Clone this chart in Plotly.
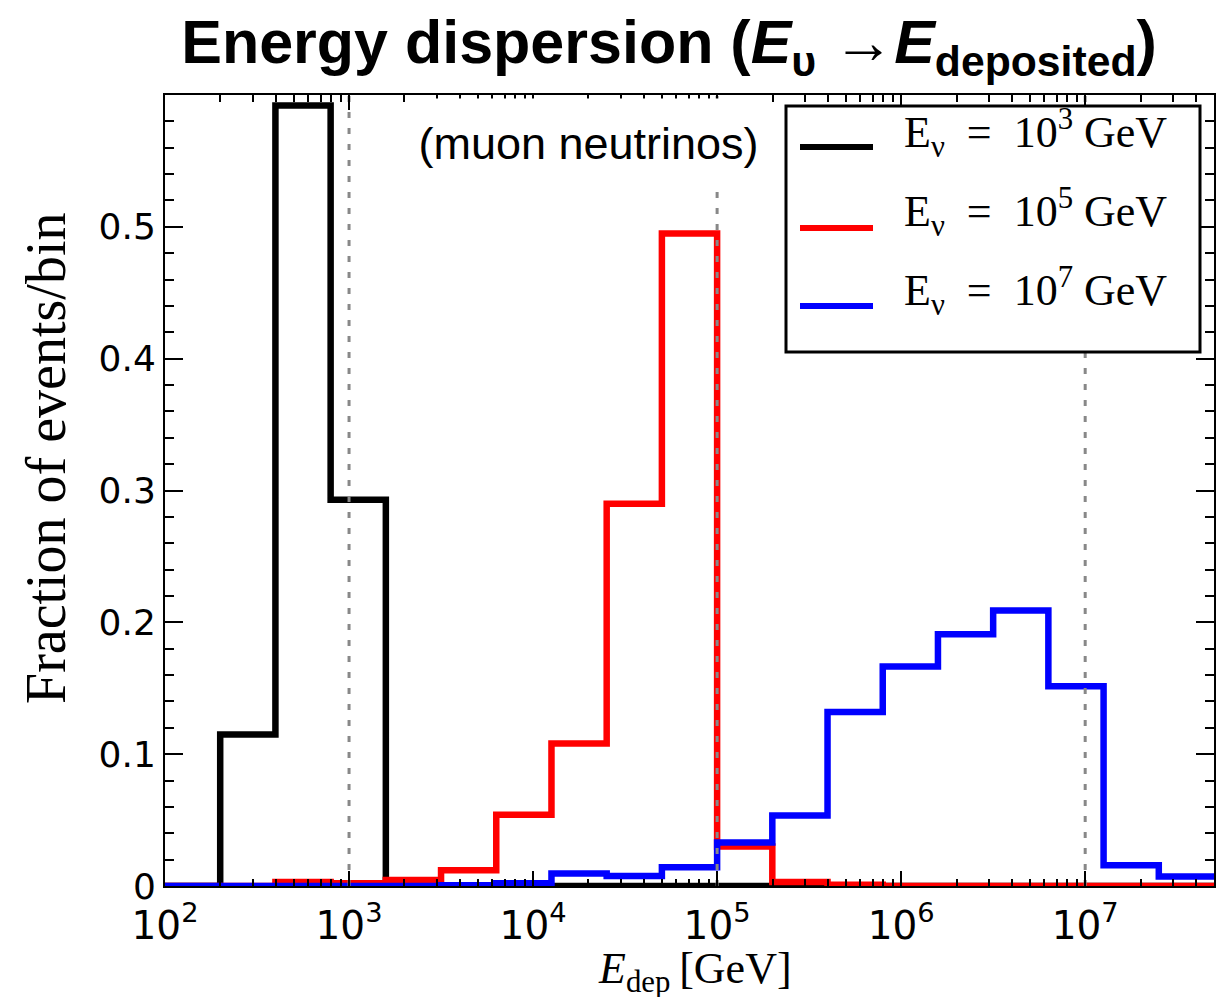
import plotly.graph_objects as go

# Deposited-energy bin edges in GeV (0.3 dex wide bins from 10^2 to 10^7.7)
bin_edges = [100, 199.5, 398.1, 794.3, 1584.9, 3162.3, 6309.6, 12589.3, 25118.9,
             50118.7, 100000, 199526, 398107, 794328, 1584893, 3162278,
             6309573, 12589254, 25118864, 50118723]

# Fraction of events per bin for each neutrino energy
frac_1e3 = [0, 0.115, 0.592, 0.293, 0, 0, 0, 0, 0, 0, 0, 0, 0, 0, 0, 0, 0, 0, 0]
frac_1e5 = [0, 0, 0.003, 0.002, 0.0045, 0.012, 0.054, 0.108, 0.290, 0.495,
            0.030, 0.003, 0.001, 0, 0, 0, 0, 0, 0]
frac_1e7 = [0, 0, 0, 0, 0, 0.0005, 0.002, 0.0095, 0.0075, 0.0143, 0.033,
            0.0535, 0.132, 0.1665, 0.191, 0.209, 0.1515, 0.0158, 0.0072]

series_names = ["E<sub>ν</sub>\u2002=\u200210<sup>3</sup> GeV",
                "E<sub>ν</sub>\u2002=\u200210<sup>5</sup> GeV",
                "E<sub>ν</sub>\u2002=\u200210<sup>7</sup> GeV"]
series_colors = ["#000000", "#ff0000", "#0000ff"]

# True neutrino energies marked with dotted verticals
true_energies = [1e3, 1e5, 1e7]

x_tick_vals = [1e2, 1e3, 1e4, 1e5, 1e6, 1e7]
x_tick_text = ["10<sup>2</sup>", "10<sup>3</sup>", "10<sup>4</sup>",
               "10<sup>5</sup>", "10<sup>6</sup>", "10<sup>7</sup>"]
x_minor_vals = [m * 10 ** k for k in range(2, 8) for m in range(2, 10)]
y_tick_vals = [0, 0.1, 0.2, 0.3, 0.4, 0.5]

W, H = 1229, 997
L, R, T, B = 165, 15, 95, 111
PW, PH = W - L - R, H - T - B


def px(x):
    return (x - L) / PW


def py(y):
    return (H - B - y) / PH


fig = go.Figure()

for vals, name, color in zip([frac_1e3, frac_1e5, frac_1e7], series_names, series_colors):
    fig.add_trace(go.Scatter(
        x=bin_edges, y=vals + [vals[-1]], mode="lines", name=name,
        line=dict(color=color, width=6.5, shape="hv"), showlegend=False,
    ))

for e in true_energies:
    fig.add_trace(go.Scatter(
        x=[e, e], y=[0, 0.6], mode="lines", showlegend=False,
        line=dict(color="#888888", width=3, dash="6px,10px"),
    ))

axis_common = dict(
    showline=True, linecolor="black", linewidth=2, mirror="ticks",
    ticks="inside", tickcolor="black", tickwidth=2,
    showgrid=False, zeroline=False,
)

fig.update_xaxes(
    type="log", range=[2, 7.7],
    tickmode="array", tickvals=x_tick_vals, ticktext=x_tick_text, ticklen=15,
    ticklabelstandoff=4,
    tickfont=dict(family="DejaVu Sans", size=39, color="black"),
    minor=dict(tickmode="array", tickvals=x_minor_vals, ticks="inside",
               ticklen=7, tickwidth=2, tickcolor="black"),
    **axis_common,
)
fig.update_yaxes(
    range=[0, 0.6],
    tickmode="array", tickvals=y_tick_vals, ticklen=18,
    tickfont=dict(family="DejaVu Sans", size=36, color="black"),
    minor=dict(dtick=0.02, ticks="inside", ticklen=9, tickwidth=2, tickcolor="black"),
    **axis_common,
)

# Legend box drawn above the curves
shapes = [dict(type="rect", xref="paper", yref="paper",
               x0=px(786), x1=px(1200), y0=py(352), y1=py(106),
               line=dict(color="black", width=3), fillcolor="white", layer="above")]
row_y = [147, 228, 306]
text_y = [133, 212, 291]
annotations = []
for ry, ty, name, color in zip(row_y, text_y, series_names, series_colors):
    shapes.append(dict(type="line", xref="paper", yref="paper",
                       x0=px(800), x1=px(873), y0=py(ry), y1=py(ry),
                       line=dict(color=color, width=6), layer="above"))
    annotations.append(dict(
        text=name, xref="paper", yref="paper", x=px(902), y=py(ty),
        xanchor="left", yanchor="middle", showarrow=False,
        font=dict(family="Liberation Serif, Times New Roman", size=44, color="black"),
    ))

annotations.append(dict(
    text="(muon neutrinos)", xref="paper", yref="paper", x=px(588), y=py(143),
    xanchor="center", yanchor="middle", showarrow=False,
    width=345, height=86, bgcolor="white",
    font=dict(family="Liberation Sans, Arial", size=45, color="black"),
))
annotations.append(dict(
    text="Fraction of events/bin", xref="paper", yref="paper",
    x=px(46), y=py(459), textangle=-90, xanchor="center", yanchor="middle",
    showarrow=False,
    font=dict(family="Liberation Serif, Times New Roman", size=56, color="black"),
))
annotations.append(dict(
    text="<i>E</i><sub>dep</sub>\u2009[GeV]", xref="paper", yref="paper",
    x=px(695), y=py(971), xanchor="center", yanchor="middle", showarrow=False,
    font=dict(family="Liberation Serif, Times New Roman", size=44, color="black"),
))

fig.update_layout(
    width=W, height=H,
    margin=dict(l=L, r=R, t=T, b=B),
    paper_bgcolor="white", plot_bgcolor="white",
    title=dict(
        text="<b>Energy dispersion (<i>E</i><sub>υ</sub> →<i>E</i><sub>deposited</sub>)</b>",
        font=dict(family="Liberation Sans, Arial", size=61, color="black"),
        x=669 / W, xanchor="center", xref="container",
        y=1 - 42 / H, yanchor="middle", yref="container",
    ),
    shapes=shapes,
    annotations=annotations,
    showlegend=False,
)

fig.write_html("out.html")
